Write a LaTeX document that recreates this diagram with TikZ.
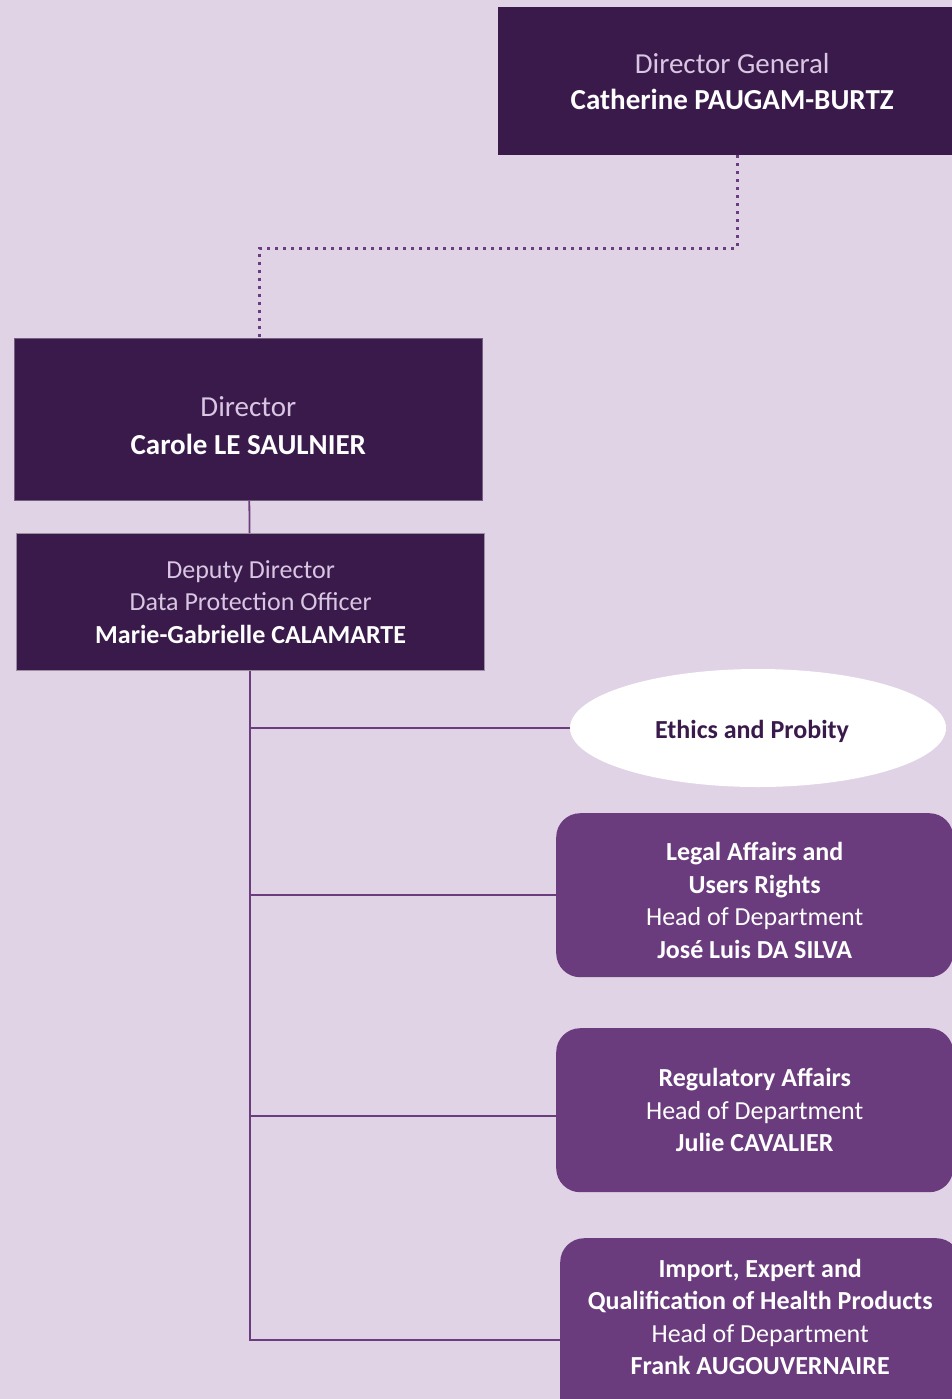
\documentclass[tikz,border=0pt]{standalone}
\usepackage{fontspec}
\setmainfont{Carlito}
\usetikzlibrary{shapes.geometric,calc}
\definecolor{bg}{HTML}{E1D3E6}
\definecolor{dark}{HTML}{3A1A4B}
\definecolor{mid}{HTML}{6A3B7D}
\definecolor{lite}{HTML}{D9C6E2}
\definecolor{lnk}{HTML}{6B3D7E}
\definecolor{edge}{HTML}{9A8FA0}
\tikzset{
  x=1pt,y=-1pt,
  darkbox/.style={fill=dark,draw=none,rectangle,anchor=north west,align=center,inner sep=0pt},
  midbox/.style={fill=mid,draw=none,rectangle,rounded corners=24pt,anchor=north west,align=center,inner sep=0pt,text=white},
  txt/.style={align=center,inner sep=0pt},
  dotline/.style={draw=lnk,line width=3pt,dash pattern=on 3pt off 5pt},
  link/.style={draw=lnk,line width=1.8pt},
  big/.style={font=\fontsize{29}{36}\selectfont},
  small/.style={font=\fontsize{26}{32.5}\selectfont},
}
\begin{document}
\begin{tikzpicture}
\fill[bg] (0,0) rectangle (952,1399);
\useasboundingbox (0,0) rectangle (952,1399);
\node[darkbox,big,minimum width=468pt,minimum height=148pt] (dg) at (498,7)
  {{\color{lite}Director General}\\{\color{white}\bfseries Catherine PAUGAM-BURTZ}};
\node[darkbox,minimum width=468pt,minimum height=162pt,draw=edge!60!dark,line width=0.6pt] (dir) at (14,338) {};
\node[txt,font=\fontsize{29}{38}\selectfont] (dirtxt) at ([yshift=-6pt]dir.center)
  {{\color{lite}Director}\\{\color{white}\bfseries Carole LE SAULNIER}};
\node[darkbox,small,minimum width=468pt,minimum height=137pt,draw=edge,line width=1.2pt] (dep) at (16,533)
  {{\color{lite}Deputy Director}\\{\color{lite}Data Protection Officer}\\{\color{white}\bfseries Marie-Gabrielle CALAMARTE}};
\node[ellipse,fill=white,draw=none,minimum width=376pt,minimum height=118pt,inner sep=0pt] (eth) at (758,728) {};
\node[txt,small,text=dark] (ethtxt) at ([xshift=-6pt,yshift=-3pt]eth.center) {\bfseries Ethics and Probity};
\node[midbox,minimum width=397pt,minimum height=164pt] (leg) at (556,813) {};
\node[txt,small,text=white] (legtxt) at ([yshift=-5pt]leg.center)
  {{\bfseries Legal Affairs and}\\{\bfseries Users Rights}\\Head of Department\\{\bfseries José Luis DA SILVA}};
\node[midbox,small,minimum width=397pt,minimum height=164pt] (reg) at (556,1028)
  {{\bfseries Regulatory Affairs}\\Head of Department\\{\bfseries Julie CAVALIER}};
\node[midbox,small,minimum width=400pt,minimum height=204pt] (imp) at (560,1238)
  {{\bfseries Import, Expert and}\\{\bfseries Qualification of Health Products}\\Head of Department\\{\bfseries Frank AUGOUVERNAIRE}\\[14pt]};
\coordinate (dgout) at ($(dg.south)+(5,0)$);
\coordinate (dirin) at ($(dir.north)+(11,0)$);
\draw[dotline] (dgout) -- ++(0,93) -| (dirin);
\coordinate (trunk) at ($(dep.south)+(-1,0)$);
\draw[link] ($(dir.south)+(1,0)$) -- ($(dep.north)+(-1,0)$);
\draw[link] (trunk) -- ++(0,670);
\draw[link] (trunk) |- (eth.west);
\draw[link] (trunk) |- (leg.west);
\draw[link] (trunk) |- ($(reg.west)+(0,6)$);
\draw[link] (trunk) |- (imp.west);
\end{tikzpicture}
\end{document}
